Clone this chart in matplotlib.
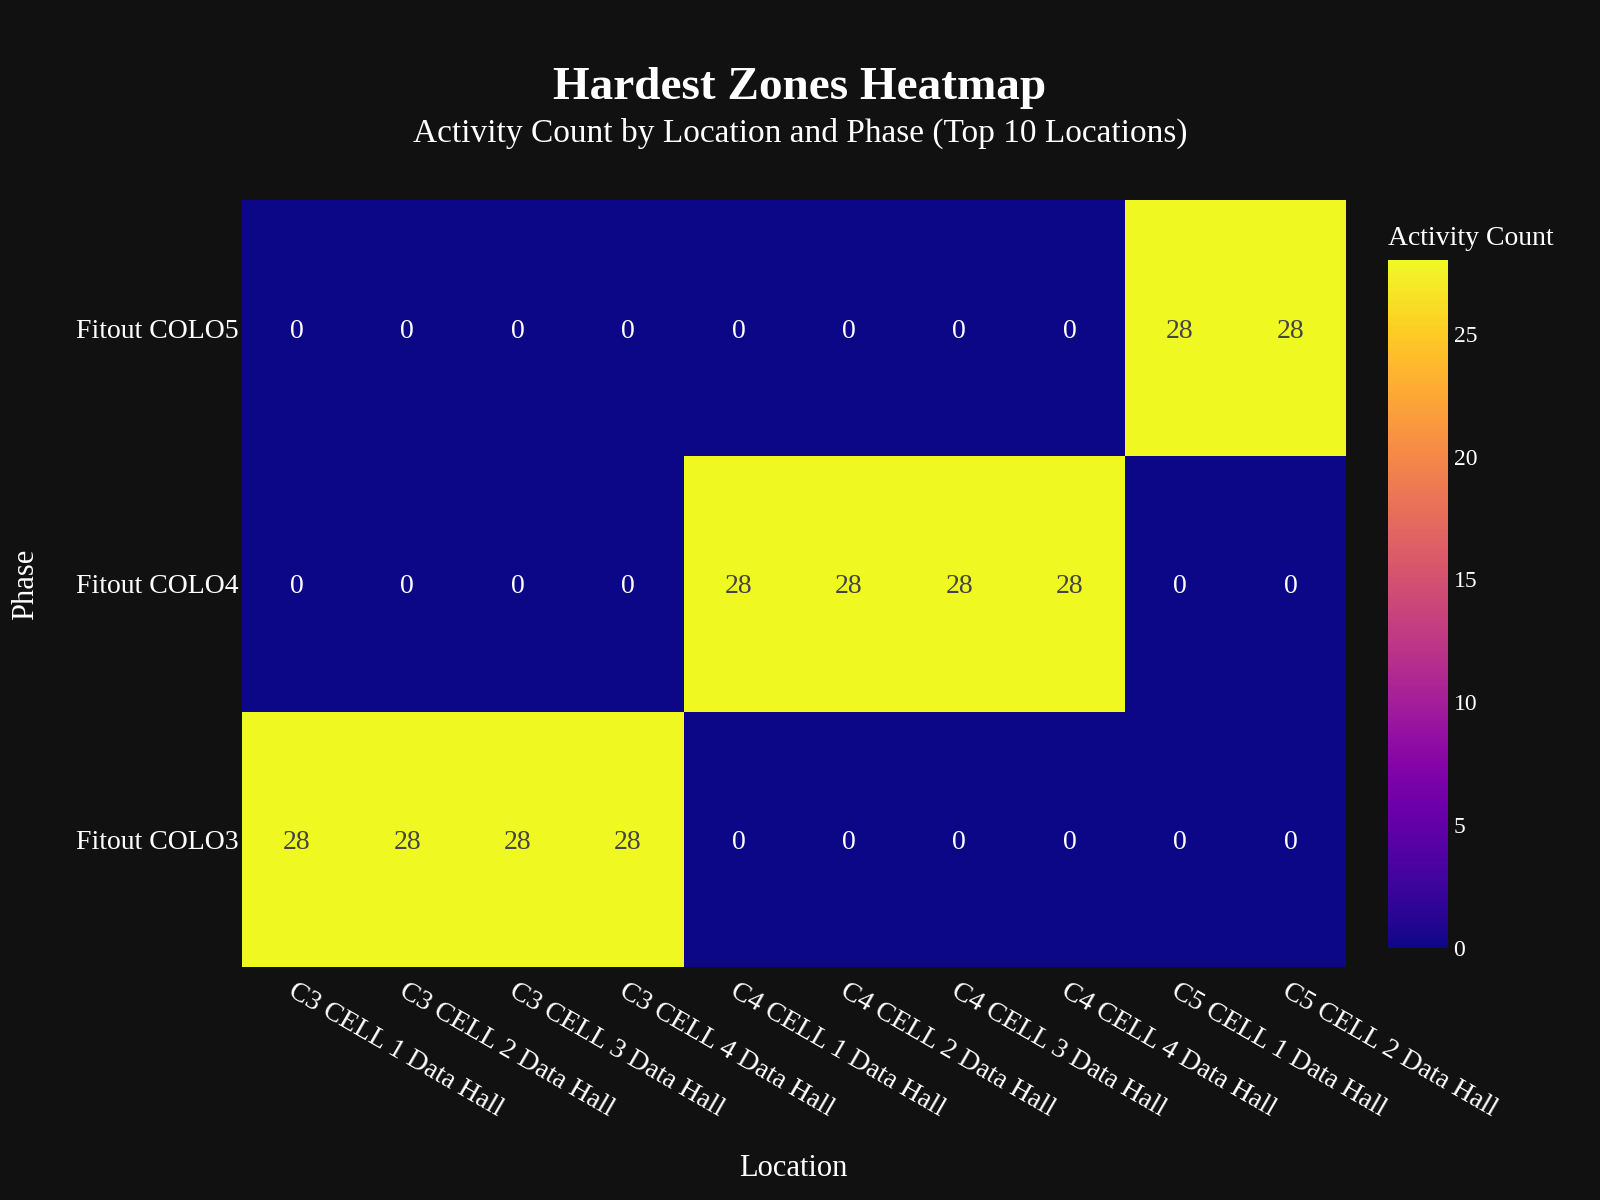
import numpy as np
import matplotlib
matplotlib.use("Agg")
import matplotlib.pyplot as plt

# heatmap data: rows = phases (bottom to top), columns = locations
locations = ["C3 CELL 1 Data Hall", "C3 CELL 2 Data Hall", "C3 CELL 3 Data Hall",
             "C3 CELL 4 Data Hall", "C4 CELL 1 Data Hall", "C4 CELL 2 Data Hall",
             "C4 CELL 3 Data Hall", "C4 CELL 4 Data Hall", "C5 CELL 1 Data Hall",
             "C5 CELL 2 Data Hall"]
phases = ["Fitout COLO3", "Fitout COLO4", "Fitout COLO5"]
colo3 = [28, 28, 28, 28, 0, 0, 0, 0, 0, 0]
colo4 = [0, 0, 0, 0, 28, 28, 28, 28, 0, 0]
colo5 = [0, 0, 0, 0, 0, 0, 0, 0, 28, 28]
cbar_ticks = [0, 5, 10, 15, 20, 25]

counts = np.array([colo3, colo4, colo5])

bg = "#111111"
plt.rcParams["font.family"] = ["Liberation Serif", "DejaVu Serif"]

fig = plt.figure(figsize=(16, 12), dpi=100, facecolor=bg)
ax = fig.add_axes([0.151, 0.194, 0.690, 0.639])
ax.set_facecolor(bg)

im = ax.imshow(counts, cmap="plasma", vmin=0, vmax=28, aspect="auto",
               origin="lower", interpolation="nearest")

# cell labels
for r in range(counts.shape[0]):
    for c in range(counts.shape[1]):
        v = counts[r, c]
        col = "#444444" if v > 14 else "white"
        ax.text(c, r, str(v), ha="center", va="center_baseline", fontsize=20, color=col)

ax.set_xticks(range(len(locations)))
ax.set_xticklabels(locations, rotation=-30, ha="left", va="top",
                   rotation_mode="anchor", fontsize=20, color="white")
ax.set_yticks(range(len(phases)))
ax.set_yticklabels(phases, fontsize=20, color="white")
ax.tick_params(length=0, pad=2)
ax.tick_params(axis="x", pad=8)
for s in ax.spines.values():
    s.set_visible(False)

fig.text(0.496, 0.026, "Location", fontsize=22, color="white",
         ha="center", va="center")
fig.text(0.016, 0.513, "Phase", fontsize=22, color="white",
         ha="center", va="center", rotation=90)

# colorbar
cax = fig.add_axes([0.8675, 0.21, 0.0375, 0.5733])
cb = fig.colorbar(im, cax=cax, ticks=cbar_ticks)
cb.outline.set_visible(False)
cax.tick_params(length=0, labelsize=17, labelcolor="white", pad=4)
fig.text(0.8675, 0.8015, "Activity Count", fontsize=20, color="white",
         ha="left", va="center")

fig.text(0.5, 0.927, "Hardest Zones Heatmap", fontsize=34, fontweight="bold",
         color="white", ha="center", va="center")
fig.text(0.5, 0.889, "Activity Count by Location and Phase (Top 10 Locations)",
         fontsize=24, color="white", ha="center", va="center")

fig.savefig("out.png", dpi=100, facecolor=bg)
